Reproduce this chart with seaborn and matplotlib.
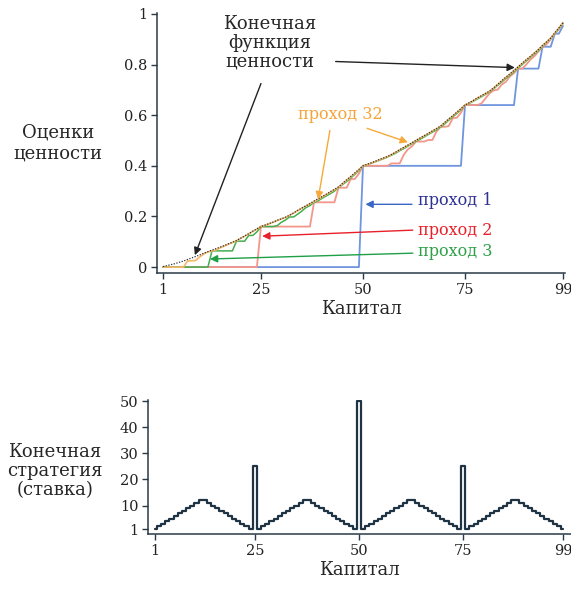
import matplotlib
matplotlib.use("Agg")
import matplotlib.pyplot as plt
import seaborn as sns
import pandas as pd

# ---------------- data ----------------
capital = list(range(1, 100))

sweep1 = [0, 0, 0, 0, 0, 0, 0, 0, 0, 0,
          0, 0, 0, 0, 0, 0, 0, 0, 0, 0,
          0, 0, 0, 0, 0, 0, 0, 0, 0, 0,
          0, 0, 0, 0, 0, 0, 0, 0, 0, 0,
          0, 0, 0, 0, 0, 0, 0, 0, 0,
          0.4, 0.4, 0.4, 0.4, 0.4, 0.4, 0.4, 0.4, 0.4, 0.4,
          0.4, 0.4, 0.4, 0.4, 0.4, 0.4, 0.4, 0.4, 0.4, 0.4,
          0.4, 0.4, 0.4, 0.4, 0.4,
          0.64, 0.64, 0.64, 0.64, 0.64, 0.64, 0.64, 0.64, 0.64, 0.64, 0.64, 0.64, 0.64,
          0.784, 0.784, 0.784, 0.784, 0.784, 0.784,
          0.8704, 0.8704, 0.8704,
          0.922, 0.922, 0.953]

sweep2 = [0, 0, 0, 0, 0, 0, 0, 0, 0, 0, 0, 0,
          0, 0, 0, 0, 0, 0, 0, 0, 0, 0, 0, 0,
          0.16, 0.16, 0.16, 0.16, 0.16, 0.16, 0.16, 0.16, 0.16, 0.16, 0.16, 0.16, 0.16,
          0.256, 0.256, 0.256, 0.256, 0.256, 0.256,
          0.3136, 0.3136, 0.3136, 0.348, 0.348, 0.369,
          0.4, 0.4, 0.4, 0.4, 0.4, 0.4, 0.4,
          0.4096, 0.4096, 0.4096, 0.444, 0.465, 0.477,
          0.496, 0.496, 0.496, 0.502, 0.502, 0.535, 0.554, 0.554,
          0.557, 0.588, 0.590, 0.610,
          0.64, 0.64, 0.64, 0.64, 0.646, 0.666, 0.686, 0.698, 0.701,
          0.721, 0.732, 0.753, 0.766, 0.784, 0.784,
          0.800, 0.819, 0.833, 0.852, 0.870, 0.880, 0.900, 0.922, 0.940, 0.964]

sweep3 = [0, 0, 0, 0, 0, 0, 0, 0, 0, 0, 0, 0,
          0.064, 0.064, 0.064, 0.064, 0.064, 0.064,
          0.1024, 0.1024, 0.1024, 0.125, 0.125, 0.139,
          0.16, 0.16, 0.16, 0.16, 0.164, 0.177, 0.186, 0.198, 0.198, 0.209,
          0.221, 0.235, 0.243,
          0.256, 0.262, 0.272, 0.281, 0.290, 0.300, 0.314, 0.326, 0.338, 0.352,
          0.366, 0.381, 0.400,
          0.404, 0.410, 0.416, 0.422, 0.428, 0.435, 0.442, 0.450, 0.460, 0.468,
          0.478, 0.487, 0.497, 0.505, 0.514, 0.524, 0.533, 0.542, 0.553, 0.565,
          0.580, 0.593, 0.607, 0.621, 0.640, 0.646, 0.655, 0.664, 0.673, 0.682,
          0.692, 0.704, 0.718, 0.731, 0.745, 0.758, 0.772, 0.787, 0.800, 0.814,
          0.828, 0.842, 0.855, 0.872, 0.888, 0.903, 0.922, 0.942, 0.962]

sweep32 = [0, 0, 0, 0, 0, 0, 0.024, 0.025, 0.026, 0.040,
           0.052, 0.060, 0.064, 0.068, 0.076, 0.083, 0.090, 0.097, 0.104, 0.113,
           0.122, 0.131, 0.141, 0.150, 0.160, 0.165, 0.171, 0.177, 0.184, 0.190,
           0.196, 0.204, 0.213, 0.223, 0.232, 0.241, 0.250, 0.258, 0.268, 0.277,
           0.286, 0.296, 0.305, 0.315, 0.329, 0.343, 0.356, 0.370, 0.384, 0.400,
           0.404, 0.410, 0.416, 0.423, 0.430, 0.436, 0.444, 0.453, 0.463, 0.472,
           0.481, 0.490, 0.500, 0.509, 0.518, 0.527, 0.537, 0.546, 0.556, 0.570,
           0.584, 0.597, 0.611, 0.625, 0.640, 0.648, 0.657, 0.667, 0.676, 0.685,
           0.694, 0.707, 0.721, 0.735, 0.749, 0.762, 0.776, 0.790, 0.804, 0.818,
           0.831, 0.845, 0.859, 0.875, 0.889, 0.904, 0.924, 0.944, 0.964]

final_value = [0.002, 0.006, 0.010, 0.014, 0.019, 0.024, 0.030, 0.036, 0.042, 0.048,
               0.055, 0.061, 0.067, 0.073, 0.079, 0.085, 0.092, 0.098, 0.105, 0.114,
               0.123, 0.132, 0.142, 0.151, 0.160, 0.166, 0.172, 0.178, 0.185, 0.191,
               0.197, 0.205, 0.214, 0.224, 0.233, 0.242, 0.251, 0.261, 0.270, 0.279,
               0.288, 0.298, 0.307, 0.317, 0.331, 0.345, 0.358, 0.372, 0.386, 0.400,
               0.406, 0.412, 0.418, 0.425, 0.431, 0.437, 0.445, 0.454, 0.464, 0.473,
               0.482, 0.491, 0.501, 0.510, 0.519, 0.528, 0.538, 0.547, 0.557, 0.571,
               0.585, 0.598, 0.612, 0.626, 0.640, 0.649, 0.658, 0.668, 0.677, 0.686,
               0.695, 0.708, 0.722, 0.736, 0.750, 0.763, 0.777, 0.791, 0.805, 0.819,
               0.832, 0.846, 0.860, 0.876, 0.890, 0.905, 0.925, 0.945, 0.965]

policy = [1, 2, 3, 4, 5, 6, 7, 8, 9, 10, 11, 12,
          12, 11, 10, 9, 8, 7, 6, 5, 4, 3, 2, 1,
          25,
          1, 2, 3, 4, 5, 6, 7, 8, 9, 10, 11, 12,
          12, 11, 10, 9, 8, 7, 6, 5, 4, 3, 2, 1,
          50,
          1, 2, 3, 4, 5, 6, 7, 8, 9, 10, 11, 12,
          12, 11, 10, 9, 8, 7, 6, 5, 4, 3, 2, 1,
          25,
          1, 2, 3, 4, 5, 6, 7, 8, 9, 10, 11, 12,
          12, 11, 10, 9, 8, 7, 6, 5, 4, 3, 2, 1]

x_ticks = [1, 25, 50, 75, 99]
value_ticks = [0, 0.2, 0.4, 0.6, 0.8, 1]
value_tick_labels = ["0", "0.2", "0.4", "0.6", "0.8", "1"]
policy_ticks = [1, 10, 20, 30, 40, 50]

# ---------------- style ----------------
sns.set_theme(style="ticks")
plt.rcParams["font.family"] = ["DejaVu Serif"]
plt.rcParams["axes.edgecolor"] = "#2a3a46"
plt.rcParams["xtick.color"] = "#2a3a46"
plt.rcParams["ytick.color"] = "#2a3a46"
plt.rcParams["xtick.labelcolor"] = "#222222"
plt.rcParams["ytick.labelcolor"] = "#222222"

C_BLUE, C_RED, C_GREEN, C_ORANGE = "#6f95de", "#f4968a", "#44ad4f", "#f8b766"
T_BLUE, T_RED, T_GREEN, T_ORANGE = "#2e3192", "#e8202a", "#2ea048", "#f6a33a"
A_BLUE, A_RED, A_GREEN, A_ORANGE = "#3a66c4", "#e8202a", "#1e9f48", "#f6a93b"

fig = plt.figure(figsize=(5.71, 5.90), dpi=100)
ax1 = fig.add_axes([0.275, 0.537, 0.7145, 0.4407])
ax2 = fig.add_axes([0.2592, 0.0949, 0.7408, 0.2271])

df = pd.DataFrame({"capital": capital, "s1": sweep1, "s2": sweep2, "s3": sweep3,
                   "s32": sweep32, "final": final_value, "policy": policy})

sns.lineplot(data=df, x="capital", y="s1", ax=ax1, color=C_BLUE, lw=1.3)
sns.lineplot(data=df, x="capital", y="s2", ax=ax1, color=C_RED, lw=1.3)
sns.lineplot(data=df, x="capital", y="s3", ax=ax1, color=C_GREEN, lw=1.1)
sns.lineplot(data=df, x="capital", y="s32", ax=ax1, color=C_ORANGE, lw=1.2)
sns.lineplot(data=df, x="capital", y="final", ax=ax1, color="#2b3340", lw=0.9,
             linestyle=(0, (1, 1.2)))

ax1.set_xlim(-0.47, 99.5)
ax1.set_ylim(-0.024, 1.003)
ax1.set_xticks(x_ticks)
ax1.set_yticks(value_ticks)
ax1.set_yticklabels(value_tick_labels)
ax1.set_xlabel("Капитал", fontsize=13, labelpad=2)
ax1.set_ylabel("")
sns.despine(ax=ax1)

sns.lineplot(data=df, x="capital", y="policy", ax=ax2, color="#1e3444", lw=1.6,
             drawstyle="steps-mid")
ax2.set_xlim(-0.65, 100.9)
ax2.set_ylim(-0.9, 50.4)
ax2.set_xticks(x_ticks)
ax2.set_yticks(policy_ticks)
ax2.set_xlabel("Капитал", fontsize=13, labelpad=2)
ax2.set_ylabel("")
sns.despine(ax=ax2)

for ax in (ax1, ax2):
    ax.tick_params(labelsize=10.5, length=4, width=1, pad=3)
    for sp in ax.spines.values():
        sp.set_linewidth(1.1)

# ---------------- texts ----------------
fig.text(58 / 571, 1 - 143 / 590, "Оценки\nценности", ha="center", va="center",
         fontsize=13, linespacing=1.15)
fig.text(55 / 571, 1 - 471 / 590, "Конечная\nстратегия\n(ставка)", ha="center",
         va="center", fontsize=13, linespacing=1.05)

ax1.text(27.2, 0.887, "Конечная\nфункция\nценности", ha="center", va="center",
         fontsize=13, linespacing=1.05)
arrow_kw = dict(arrowstyle="-|>", lw=1.0, mutation_scale=11, shrinkA=0, shrinkB=0)
ax1.annotate("", xy=(8.8, 0.047), xytext=(25, 0.725),
             arrowprops=dict(color="#222222", **arrow_kw))
ax1.annotate("", xy=(87.2, 0.788), xytext=(43.3, 0.812),
             arrowprops=dict(color="#222222", **arrow_kw))

ax1.text(44.4, 0.603, "проход 32", ha="center", va="center", fontsize=11.5,
         color=T_ORANGE)
ax1.annotate("", xy=(39.0, 0.268), xytext=(41.9, 0.54),
             arrowprops=dict(color=A_ORANGE, **arrow_kw))
ax1.annotate("", xy=(61.0, 0.493), xytext=(51.0, 0.548),
             arrowprops=dict(color=A_ORANGE, **arrow_kw))

ax1.text(63.6, 0.262, "проход 1", ha="left", va="center", fontsize=11.5, color=T_BLUE)
ax1.annotate("", xy=(50.6, 0.248), xytext=(62.0, 0.248),
             arrowprops=dict(color=A_BLUE, **arrow_kw))
ax1.text(63.6, 0.146, "проход 2", ha="left", va="center", fontsize=11.5, color=T_RED)
ax1.annotate("", xy=(25.3, 0.122), xytext=(62.2, 0.146),
             arrowprops=dict(color=A_RED, **arrow_kw))
ax1.text(63.6, 0.060, "проход 3", ha="left", va="center", fontsize=11.5, color=T_GREEN)
ax1.annotate("", xy=(12.5, 0.032), xytext=(62.2, 0.055),
             arrowprops=dict(color=A_GREEN, **arrow_kw))

fig.savefig("out.png", dpi=100)
